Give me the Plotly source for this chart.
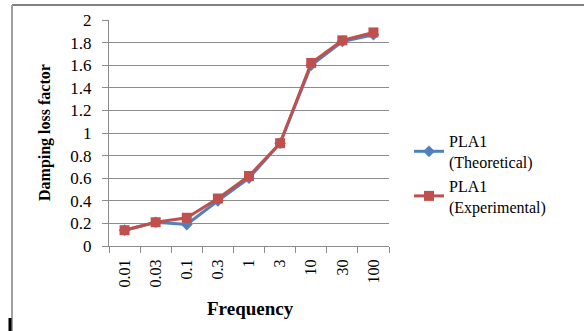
import plotly.graph_objects as go

# Frequency categories and damping loss factor values
frequency = ["0.01", "0.03", "0.1", "0.3", "1", "3", "10", "30", "100"]
theoretical = [0.14, 0.21, 0.19, 0.40, 0.60, 0.91, 1.60, 1.81, 1.87]
experimental = [0.14, 0.21, 0.25, 0.42, 0.62, 0.91, 1.62, 1.82, 1.89]

BLUE = "#4F81BD"
RED = "#C0504D"
GRID = "#8C8C8C"
SERIF = "Liberation Serif"

fig = go.Figure()
fig.add_trace(go.Scatter(
    x=frequency, y=theoretical, mode="lines+markers",
    name="PLA1<br>(Theoretical)",
    line=dict(color=BLUE, width=3),
    marker=dict(symbol="diamond", size=9, color=BLUE),
))
fig.add_trace(go.Scatter(
    x=frequency, y=experimental, mode="lines+markers",
    name="PLA1<br>(Experimental)",
    line=dict(color=RED, width=3),
    marker=dict(symbol="square", size=10, color=RED),
))

W, H = 584, 331
L, R, T, B = 109, 389, 20, 246
pw, ph = R - L, B - T


def px(x):
    return (x - L) / pw


def py(y):
    return (B - y) / ph


fig.update_layout(
    width=W, height=H,
    margin=dict(l=L, r=W - R, t=T, b=H - B),
    paper_bgcolor="white", plot_bgcolor="white",
    font=dict(family=SERIF, size=16, color="black"),
    showlegend=True,
    legend=dict(x=px(409), y=py(124), xanchor="left", yanchor="top",
                font=dict(family=SERIF, size=16, color="black"),
                bgcolor="rgba(0,0,0,0)", tracegroupgap=4),
    xaxis=dict(
        type="category", showgrid=False,
        showline=True, linecolor=GRID, linewidth=1,
        ticks="outside", tickson="boundaries", ticklen=6, tickcolor=GRID,
        tickangle=-90, tickfont=dict(family=SERIF, size=16),
        ticklabelstandoff=6,
        range=[-0.5, 8.5],
    ),
    yaxis=dict(
        range=[0, 2], dtick=0.2, tickformat="~g",
        showgrid=True, gridcolor=GRID, gridwidth=1,
        showline=True, linecolor=GRID, linewidth=1,
        ticks="outside", ticklen=6, tickcolor=GRID,
        tickfont=dict(family=SERIF, size=17),
        ticklabelstandoff=7,
        zeroline=False,
    ),
    annotations=[
        dict(text="<b>Damping loss factor</b>", textangle=-90,
             x=px(45), y=0.5, xref="paper", yref="paper",
             xanchor="center", yanchor="middle", showarrow=False,
             font=dict(family=SERIF, size=16)),
        dict(text="<b>Frequency</b>",
             x=px(250), y=py(308), xref="paper", yref="paper",
             xanchor="center", yanchor="middle", showarrow=False,
             font=dict(family=SERIF, size=19)),
    ],
    shapes=[
        # outer frame (top and left edges)
        dict(type="line", xref="paper", yref="paper",
             x0=px(12), x1=px(W), y0=py(5), y1=py(5),
             line=dict(color="#808080", width=2)),
        dict(type="line", xref="paper", yref="paper",
             x0=px(12), x1=px(12), y0=py(5), y1=py(H),
             line=dict(color="#A0A0A0", width=2)),
        dict(type="line", xref="paper", yref="paper",
             x0=px(10), x1=px(10), y0=py(318), y1=py(H),
             line=dict(color="black", width=3)),
    ],
)

fig.write_html("out.html")
